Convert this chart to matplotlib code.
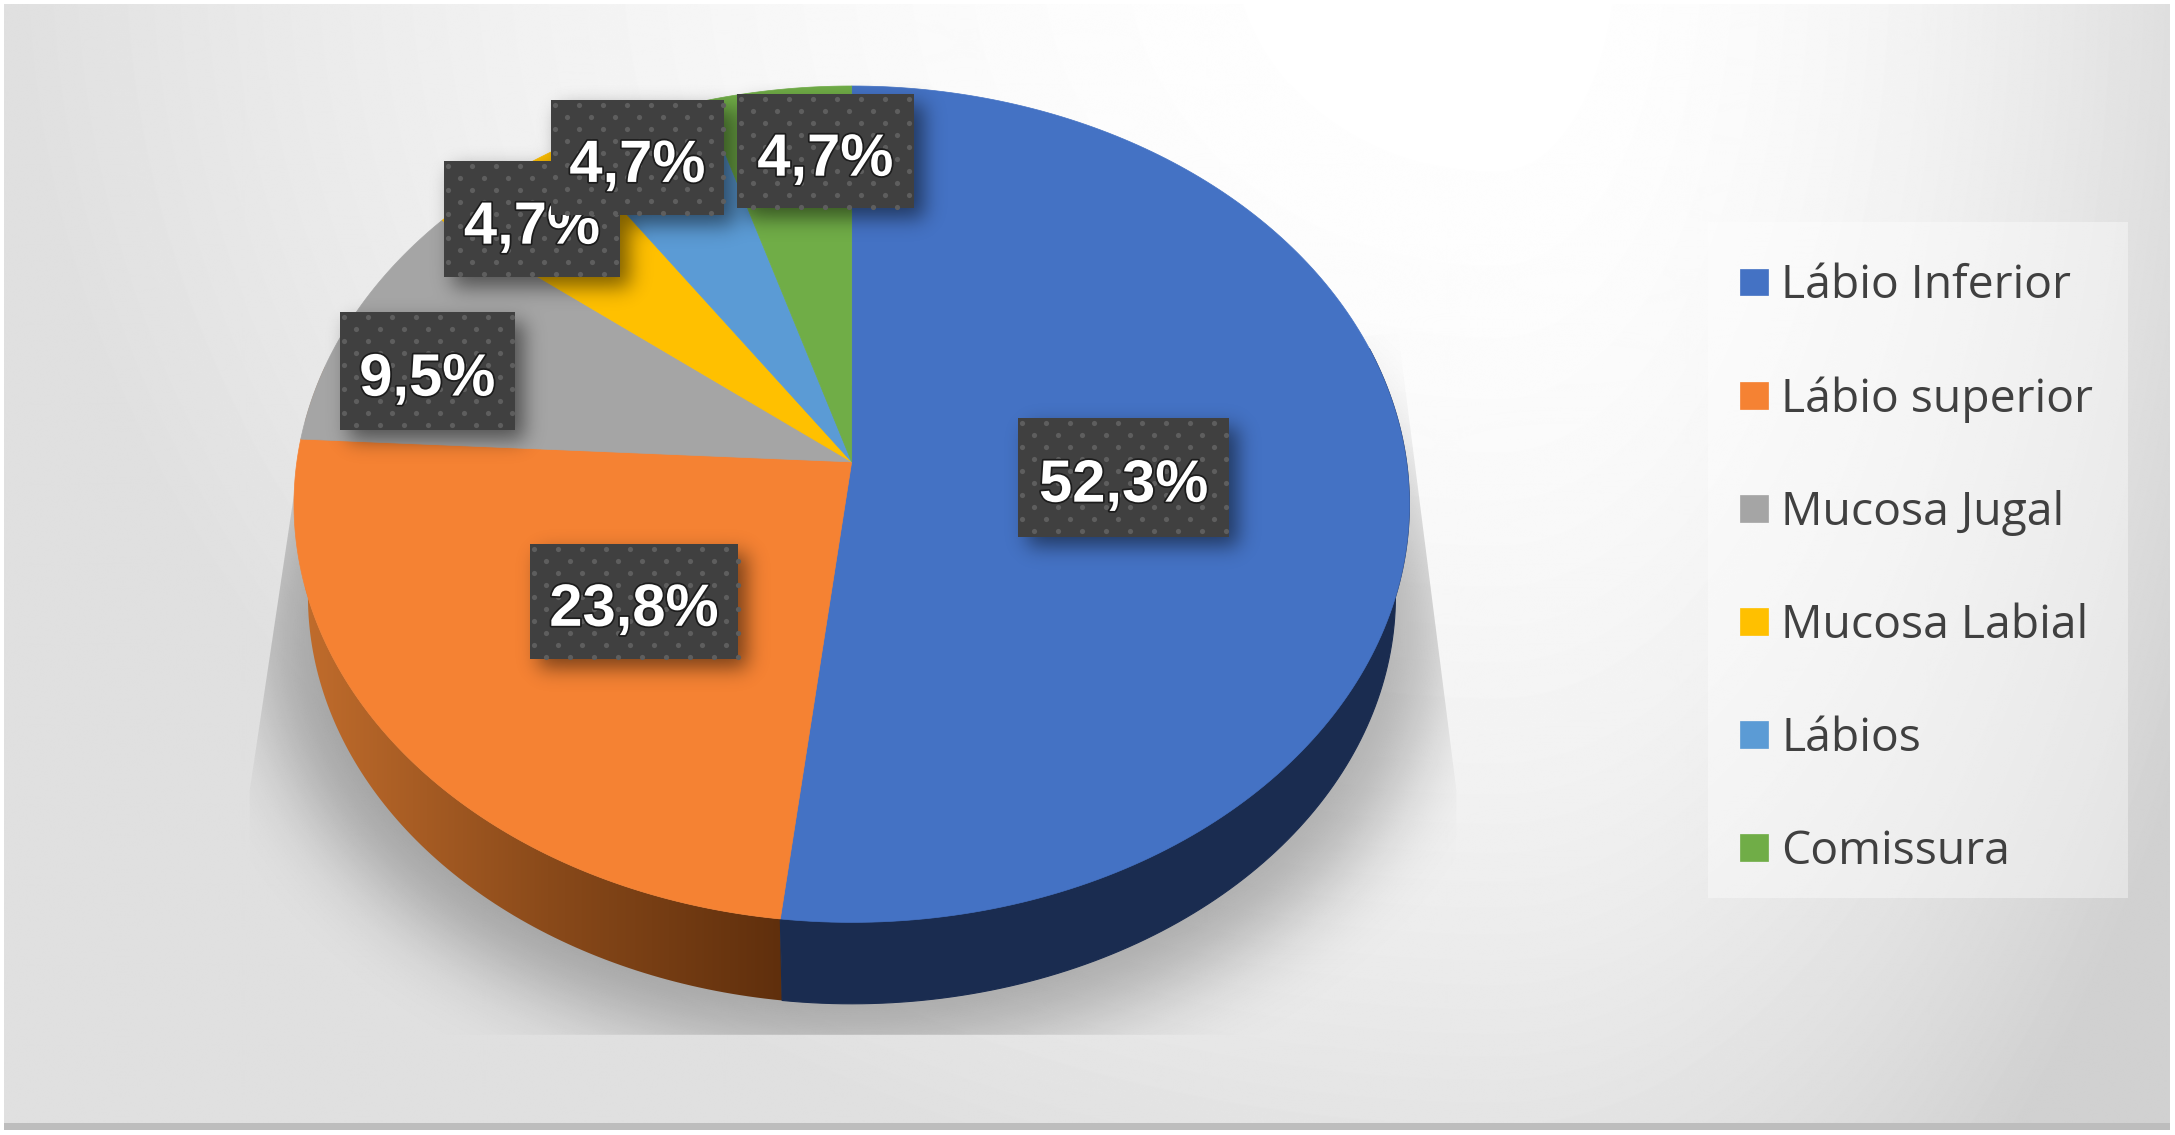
import matplotlib
matplotlib.use("Agg")
import matplotlib.pyplot as plt
from matplotlib.colors import LinearSegmentedColormap
from matplotlib.patches import Polygon, Rectangle
import matplotlib.patheffects as pe
import numpy as np

categories = ["Lábio Inferior", "Lábio superior", "Mucosa Jugal", "Mucosa Labial", "Lábios", "Comissura"]
values = [52.3, 23.8, 9.5, 4.7, 4.7, 4.7]
labels = ["52,3%", "23,8%", "9,5%", "4,7%", "4,7%", "4,7%"]
colors = ["#4472c4", "#f58233", "#a5a5a5", "#ffc000", "#5b9bd5", "#70ad47"]

W, H = 2175, 1135
S = 2175 / 1568  # positions below were read on the 1568 wide picture

# pie geometry, tilted disc seen in perspective
cx, cy = 614 * S, 333 * S
a, b, k = 298.4 * S, 400 * S, 0.1011
depth = 67 * S
shrink = 0.975

# label boxes: left, top, right, bottom
boxes = [(734, 301, 886, 387), (382, 392, 532, 475), (245, 225, 371, 310),
         (320, 116, 447, 200), (397, 72, 522, 155), (531, 68, 659, 150)]


def rim(theta, bottom=False):
    # theta in degrees, clockwise from the top of the disc
    # small warp because the chart's camera squeezes the angles on the near side
    r = np.radians(theta)
    t = np.radians(theta - 2.2 * np.sin(r / 2) ** 2 - 0.6 * np.sin(r) ** 2 * (np.cos(r) < 0.7))
    u, v = np.sin(t), np.cos(t)
    x = b * u / (1 + k * v)
    y = -a * v / (1 + k * v)
    if bottom:
        return cx + x * shrink, cy + y * shrink + depth
    return cx + x, cy + y


def blur(img, sigma):
    fy = np.fft.fftfreq(img.shape[0])[:, None]
    fx = np.fft.rfftfreq(img.shape[1])[None, :]
    g = np.exp(-2 * (np.pi * sigma) ** 2 * (fx ** 2 + fy ** 2))
    return np.fft.irfft2(np.fft.rfft2(img) * g, s=img.shape)


def dark_overlay(alpha):
    rgba = np.zeros(alpha.shape + (4,))
    rgba[..., 3] = np.clip(alpha, 0, 1)
    return rgba


fig = plt.figure(figsize=(W / 100, H / 100), dpi=100, facecolor="white")
ax = fig.add_axes([0, 0, 1, 1])
ax.set_xlim(0, W)
ax.set_ylim(H, 0)
ax.axis("off")

yy, xx = np.mgrid[0:H, 0:W]

# background gradient
dx = (xx - 1500.0) / np.where(xx < 1500, 1500.0, 670.0)
dy = (yy + 60.0) / 1300.0
d2 = np.minimum(dx ** 2 + dy ** 2, np.where(xx < 1500, 1.0, 1.45))
bg = 1 - 0.125 * d2
ax.imshow(bg, cmap="gray", vmin=0, vmax=1, extent=(4, W - 5, H - 10, 4), aspect="auto", zorder=0)
ax.add_patch(Rectangle((4, H - 12), W - 9, 7, color="#bdbdbd", lw=0, zorder=1))

# soft shadow under the pie, cut by the floor shape
ell = (((xx - 614 * S) / (425 * S)) ** 2 + ((yy - 455 * S) / (300 * S)) ** 2 < 1).astype(float)
shadow = ax.imshow(dark_overlay(blur(ell, 40) * 0.28), extent=(0, W, H, 0), aspect="auto", zorder=2)
floor = Polygon(np.array([(218, 316), (180, 570), (180, 746), (1050, 746), (1050, 570), (1008, 240)]) * S,
                transform=ax.transData, fill=False, lw=0)
ax.add_patch(floor)
shadow.set_clip_path(floor)
ax.set_xlim(0, W)
ax.set_ylim(H, 0)

# slices
shares = np.array(values) / sum(values) * 360
ends = np.cumsum(shares)
starts = ends - shares

# side wall, only the blue and the orange ones show
th = np.linspace(ends[0], 285, 120)
top_x, top_y = rim(th)
bot_x, bot_y = rim(th, True)
wall = ax.fill(np.r_[top_x, bot_x[::-1]], np.r_[top_y, bot_y[::-1]], color="none", lw=0, zorder=3)[0]
side_cmap = LinearSegmentedColormap.from_list("side", ["#c06c2c", "#8a4a1a", "#5e2e0c"])
grad = ax.imshow(np.linspace(0, 1, 256)[None, :], cmap=side_cmap, extent=(220 * S, 570 * S, H, 0),
                 aspect="auto", zorder=3)
grad.set_clip_path(wall)
ax.set_xlim(0, W)
ax.set_ylim(H, 0)

th = np.linspace(75, ends[0], 120)
top_x, top_y = rim(th)
bot_x, bot_y = rim(th, True)
ax.fill(np.r_[top_x, bot_x[::-1]], np.r_[top_y, bot_y[::-1]], color="#1a2c50", lw=0.8, zorder=3.5)

handles = []
for i, name in enumerate(categories):
    th = np.linspace(starts[i], ends[i], 200)
    px, py = rim(th)
    h = ax.fill(np.r_[cx, px], np.r_[cy, py], color=colors[i], lw=0.5, zorder=4, label=name)[0]
    handles.append(h)

# shadows of the label boxes
mask = np.zeros((H, W))
for l, t, r, bt in boxes:
    mask[int(t * S) + 10:int(bt * S) + 10, int(l * S) + 10:int(r * S) + 10] = 1
ax.imshow(dark_overlay(blur(mask, 10) * 0.5), extent=(0, W, H, 0), aspect="auto", zorder=5)
ax.set_xlim(0, W)
ax.set_ylim(H, 0)

# labels, later ones cover the earlier ones like in the chart
for n in range(len(labels)):
    l, t, r, bt = [v * S for v in boxes[n]]
    z = 6 + n
    ax.add_patch(Rectangle((l, t), r - l, bt - t, facecolor="#404040", edgecolor="none", zorder=z))
    dots_x, dots_y = [], []
    for row, y in enumerate(np.arange(t + 5, bt, 12)):
        for x in np.arange(l + 4 + (row % 2) * 12, r, 24):
            dots_x.append(x)
            dots_y.append(y)
    ax.scatter(dots_x, dots_y, s=14, color="#5e5e5e", lw=0, zorder=z)
    txt = ax.text((l + r) / 2, (t + bt) / 2 + 9, labels[n], color="white", fontsize=43, fontweight="bold",
                  family="Liberation Sans", ha="center", va="center", zorder=z)
    txt.set_path_effects([pe.withStroke(linewidth=2.5, foreground="#1c1c1c")])

# legend, the pale box is drawn apart so the entries can sit where they do in the chart
ax.add_patch(Rectangle((1708, 222), 420, 676, facecolor="white", alpha=0.4, edgecolor="none", zorder=19))
leg = ax.legend(handles=handles, loc="upper left", bbox_to_anchor=(1708 / W, 1 - 231 / H),
                prop={"family": "Open Sans", "size": 33.3}, labelcolor="#404040", frameon=False,
                borderpad=0.7, labelspacing=1.45, handlelength=0.6, handleheight=0.515, handletextpad=0.28,
                borderaxespad=0)
leg.set_zorder(20)

fig.savefig("out.png", dpi=100)
